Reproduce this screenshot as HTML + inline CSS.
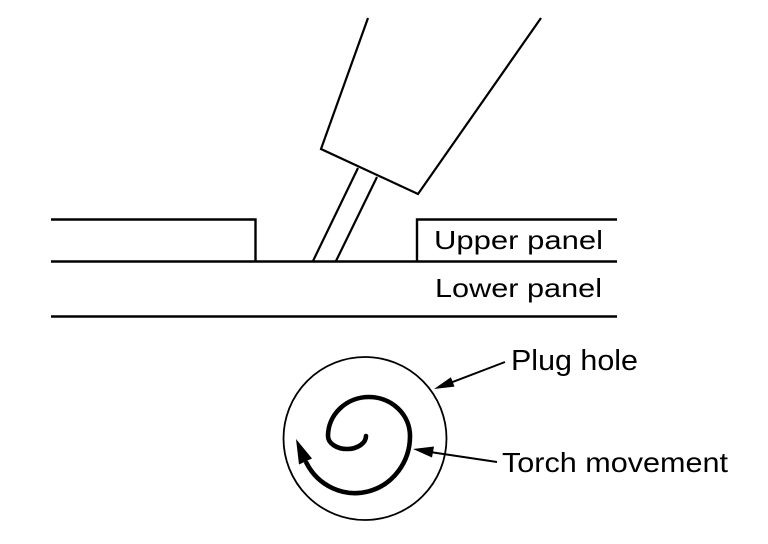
<!DOCTYPE html>
<html>
<head>
<meta charset="utf-8">
<style>
  html, body { margin: 0; padding: 0; background: #fff; }
  svg { display: block; }
  text { font-family: "Liberation Sans", Arial, sans-serif; fill: #000; }
</style>
</head>
<body>
<svg width="768" height="544" viewBox="0 0 768 544" xmlns="http://www.w3.org/2000/svg">
  <rect width="768" height="544" fill="#fff"/>
  <g stroke="#000" stroke-width="2.4" fill="none" stroke-linecap="butt" stroke-linejoin="miter">
    <polyline points="51,219.5 255.5,219.5 255.5,261.5"/>
    <polyline points="417,261.5 417,219.5 617,219.5"/>
    <line x1="51" y1="261.5" x2="617" y2="261.5"/>
    <line x1="51" y1="316.5" x2="617" y2="316.5"/>
    <polyline points="368,18 321,149 418,194 541,18" stroke-width="2.2"/>
    <line x1="358" y1="168" x2="313" y2="261" stroke-width="2.2"/>
    <line x1="377" y1="177" x2="336" y2="261" stroke-width="2.2"/>
  </g>

  <circle cx="365" cy="438.5" r="81.5" fill="none" stroke="#000" stroke-width="1.8"/>

  <path d="M 366 436
           A 19 13 0 0 1 328 436
           A 41 39 0 0 1 410 436
           A 55 57 0 0 1 306.4 462.8"
        fill="none" stroke="#000" stroke-width="4.6" stroke-linecap="round"/>
  <polygon points="296,439 299,464.5 312,458.5" fill="#000"/>

  <line x1="505" y1="362" x2="450" y2="383" stroke="#000" stroke-width="2"/>
  <polygon points="434,389 454.5,386.6 450.9,377.2" fill="#000"/>

  <line x1="497" y1="462" x2="430" y2="452" stroke="#000" stroke-width="2"/>
  <polygon points="413,449 432,457.5 434,446.5" fill="#000"/>

  <text x="434" y="249" font-size="26" textLength="169" lengthAdjust="spacingAndGlyphs">Upper panel</text>
  <text x="435" y="297" font-size="26" textLength="167" lengthAdjust="spacingAndGlyphs">Lower panel</text>
  <text x="511" y="370" font-size="29" textLength="127" lengthAdjust="spacingAndGlyphs">Plug hole</text>
  <text x="502" y="472" font-size="28" textLength="226" lengthAdjust="spacingAndGlyphs">Torch movement</text>
</svg>
</body>
</html>
